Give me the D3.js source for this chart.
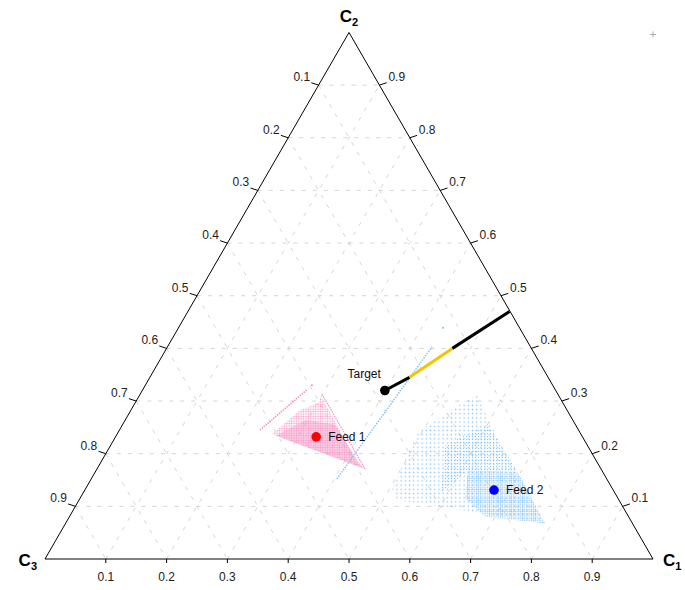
<!DOCTYPE html>
<meta charset="utf-8">
<head>
<style>
  body { margin: 0; background: #fff; }
  text { font-family: "Liberation Sans", Arial, sans-serif; }
</style>
</head>
<body>
<script src="https://d3js.org/d3.v7.min.js"></script>
<script>

// ---- data (compositions are [C1, C2, C3]) ----
var gridValues = [0.1, 0.2, 0.3, 0.4, 0.5, 0.6, 0.7, 0.8, 0.9];
var tickLabels = ["0.1", "0.2", "0.3", "0.4", "0.5", "0.6", "0.7", "0.8", "0.9"];

var pointNames = ["Feed 1", "Feed 2", "Target"];
var pointComp = [[0.330, 0.232, 0.438], [0.673, 0.131, 0.196], [0.399, 0.320, 0.281]];
var pointColors = ["#ff0000", "#0000ff", "#000000"];

// target -> C3-free edge, middle part highlighted
var tieLine = [[0.399, 0.320, 0.281], [0.427, 0.345, 0.228], [0.470, 0.400, 0.129], [0.529, 0.470, 0.001]];
var tieColors = ["#000000", "#f5c400", "#000000"];

// feed 1 cloud
var feed1Region = [[0.255, 0.237, 0.508], [0.278, 0.283, 0.439], [0.301, 0.296, 0.403], [0.300, 0.308, 0.392],
                   [0.329, 0.279, 0.392], [0.421, 0.184, 0.395], [0.441, 0.171, 0.388]];
var feed1Core = [[0.263, 0.234, 0.503], [0.296, 0.264, 0.440], [0.350, 0.255, 0.391], [0.429, 0.179, 0.393],
                 [0.441, 0.171, 0.388]];
var feed1Ray = [[0.299, 0.313, 0.388], [0.441, 0.171, 0.388]];
var feed1Strand = [[0.231, 0.245, 0.524], [0.270, 0.321, 0.409]];
var feed1Stray = [0.274, 0.330, 0.396];

// feed 2 cloud
var feed2Region = [[0.556, 0.311, 0.132], [0.543, 0.302, 0.155], [0.493, 0.241, 0.266], [0.501, 0.160, 0.340],
                   [0.503, 0.135, 0.362], [0.523, 0.112, 0.365], [0.788, 0.068, 0.143], [0.695, 0.165, 0.139],
                   [0.620, 0.239, 0.140]];
var feed2Mid = [[0.550, 0.217, 0.234], [0.601, 0.255, 0.144], [0.695, 0.165, 0.139], [0.611, 0.169, 0.220],
                [0.589, 0.122, 0.290]];
var feed2Core = [[0.611, 0.169, 0.220], [0.695, 0.165, 0.139], [0.788, 0.068, 0.143], [0.684, 0.080, 0.236],
                 [0.633, 0.116, 0.251]];
var feed2Strand = [[0.404, 0.152, 0.444], [0.435, 0.403, 0.162]];
var feed2Stray = [0.435, 0.439, 0.126];

// ---- layout ----
var width = 685, height = 590;
var svg = d3.select("body").append("svg")
  .attr("width", width)
  .attr("height", height);

var X0 = 45, X1 = 653, YB = 559;
var YT = YB - (X1 - X0) * Math.sqrt(3) / 2;
var xs = d3.scaleLinear().domain([0, 1]).range([X0, X1]);
var ys = d3.scaleLinear().domain([0, 1]).range([YB, YT]);

function proj(p) { return [xs(p[0] + p[1] / 2), ys(p[1])]; }
var line = d3.line().x(function(p){ return proj(p)[0]; }).y(function(p){ return proj(p)[1]; });

var pink = "#f592c4", blue = "#8cc6f6";

// dot patterns for the point clouds
var defs = svg.append("defs");
function dots(id, step, r, col) {
  var pt = defs.append("pattern").attr("id", id)
    .attr("patternUnits", "userSpaceOnUse")
    .attr("width", step).attr("height", step);
  pt.append("circle").attr("cx", step / 2).attr("cy", step / 2).attr("r", r).attr("fill", col);
}
dots("pinkSparse", 2.4, 0.8, pink);
dots("pinkDense", 1.9, 0.75, pink);
dots("blueSparse", 4.2, 0.75, blue);
dots("blueMid", 3.0, 0.7, blue);
dots("blueDense", 2.2, 0.7, blue);

// grid
var grid = svg.append("g")
  .attr("stroke", "#cacaca")
  .attr("stroke-width", 0.8)
  .attr("stroke-dasharray", "4,7")
  .attr("fill", "none");
gridValues.forEach(function(v) {
  grid.append("path").attr("d", line([[0, v, 1 - v], [1 - v, v, 0]]));
  grid.append("path").attr("d", line([[v, 0, 1 - v], [v, 1 - v, 0]]));
  grid.append("path").attr("d", line([[0, 1 - v, v], [1 - v, 0, v]]));
});

// clouds
svg.append("path").attr("d", line(feed2Region) + "Z").attr("fill", "url(#blueSparse)");
svg.append("path").attr("d", line(feed2Mid) + "Z").attr("fill", "url(#blueMid)");
svg.append("path").attr("d", line(feed2Core) + "Z").attr("fill", "url(#blueDense)");
svg.append("path").attr("d", line(feed2Strand))
  .attr("stroke", blue).attr("stroke-width", 1.6).attr("stroke-dasharray", "1.5,1.2").attr("fill", "none");
svg.append("circle").attr("cx", proj(feed2Stray)[0]).attr("cy", proj(feed2Stray)[1]).attr("r", 1.1).attr("fill", blue);

svg.append("path").attr("d", line(feed1Region) + "Z").attr("fill", "url(#pinkSparse)");
svg.append("path").attr("d", line(feed1Core) + "Z").attr("fill", "url(#pinkDense)");
svg.append("path").attr("d", line(feed1Ray))
  .attr("stroke", pink).attr("stroke-width", 1.2).attr("stroke-dasharray", "1.5,1").attr("fill", "none");
svg.append("path").attr("d", line(feed1Strand))
  .attr("stroke", pink).attr("stroke-width", 1.6).attr("stroke-dasharray", "1.5,1").attr("fill", "none");
svg.append("circle").attr("cx", proj(feed1Stray)[0]).attr("cy", proj(feed1Stray)[1]).attr("r", 1.1).attr("fill", pink);

// triangle
svg.append("path")
  .attr("d", line([[1, 0, 0], [0, 1, 0], [0, 0, 1]]) + "Z")
  .attr("fill", "none").attr("stroke", "#000").attr("stroke-width", 1);

// ticks + labels
var axes = svg.append("g").attr("font-size", "12px").attr("fill", "#222");
gridValues.forEach(function(v, i) {
  // bottom: C1
  var b = proj([v, 0, 1 - v]);
  axes.append("line").attr("x1", b[0]).attr("y1", b[1]).attr("x2", b[0]).attr("y2", b[1] + 4).attr("stroke", "#000");
  axes.append("text").attr("x", b[0]).attr("y", b[1] + 18).attr("text-anchor", "middle")
    .attr("dominant-baseline", "central").text(tickLabels[i]);
  // right: C2
  var r = proj([1 - v, v, 0]);
  axes.append("line").attr("x1", r[0]).attr("y1", r[1]).attr("x2", r[0] + 7.3).attr("y2", r[1] - 2.4).attr("stroke", "#000");
  axes.append("text").attr("x", r[0] + 9).attr("y", r[1] - 8).attr("text-anchor", "start")
    .attr("dominant-baseline", "central").text(tickLabels[i]);
  // left: C3
  var l = proj([0, 1 - v, v]);
  axes.append("line").attr("x1", l[0]).attr("y1", l[1]).attr("x2", l[0] - 7.3).attr("y2", l[1] - 2.4).attr("stroke", "#000");
  axes.append("text").attr("x", l[0] - 8.5).attr("y", l[1] - 8).attr("text-anchor", "end")
    .attr("dominant-baseline", "central").text(tickLabels[i]);
});

// corner titles
function title(x, y, anchor, sub) {
  var t = svg.append("text").attr("x", x).attr("y", y).attr("text-anchor", anchor)
    .attr("font-size", "17px").attr("font-weight", "bold").attr("fill", "#000");
  t.append("tspan").text("C");
  t.append("tspan").attr("font-size", "11px").attr("dy", 4).text(sub);
}
var c1 = proj([1, 0, 0]), c2 = proj([0, 1, 0]), c3 = proj([0, 0, 1]);
title(c2[0], c2[1] - 10, "middle", "2");
title(c3[0] - 8, c3[1] + 7, "end", "3");
title(c1[0] + 10, c1[1] + 7, "start", "1");

// little plus in the corner
svg.append("path")
  .attr("d", "M" + (c1[0] - 3) + "," + (c2[1] + 2) + "h6M" + c1[0] + "," + (c2[1] - 1) + "v6")
  .attr("stroke", "#999").attr("stroke-width", 0.8);

// tie line
for (var k = 0; k < tieColors.length; k++) {
  svg.append("path").attr("d", line([tieLine[k], tieLine[k + 1]]))
    .attr("stroke", tieColors[k]).attr("stroke-width", 3).attr("fill", "none");
}

// points and labels
pointComp.forEach(function(p, i) {
  var q = proj(p);
  svg.append("circle").attr("cx", q[0]).attr("cy", q[1]).attr("r", 4.8).attr("fill", pointColors[i]);
  var lab = svg.append("text").attr("font-size", "12px").attr("fill", "#111")
    .attr("dominant-baseline", "central").text(pointNames[i]);
  if (pointNames[i] === "Target") {
    lab.attr("x", q[0] - 4).attr("y", q[1] - 17).attr("text-anchor", "end");
  } else {
    lab.attr("x", q[0] + 12).attr("y", q[1]).attr("text-anchor", "start");
  }
});

</script>
</body>
